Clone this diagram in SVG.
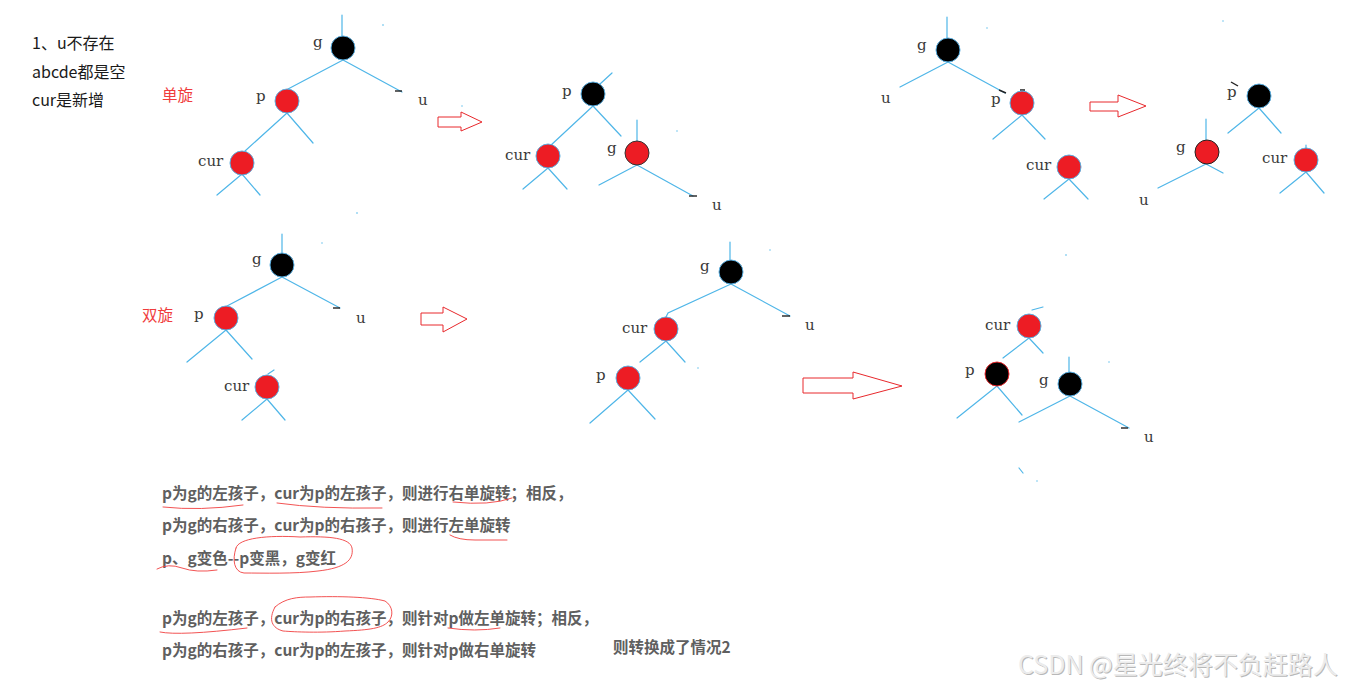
<svg xmlns="http://www.w3.org/2000/svg" width="1349" height="690" viewBox="0 0 1349 690">
<style>
.ln{stroke:#4fb6e8;stroke-width:1.2;fill:none;stroke-linecap:round}
.tk{stroke:#222;stroke-width:1.4}
.rd{fill:#ed1c24;stroke:#5aaee0;stroke-width:1}
.bk{fill:#000;stroke:#5aaee0;stroke-width:1}
.lb{font-family:"DejaVu Serif","Liberation Serif",serif;font-size:15px;fill:#3a3a3a}
.tx{font-family:"Noto Sans CJK SC","Noto Sans",sans-serif;font-size:16px;fill:#1a1a1a}
.red{font-family:"Noto Sans CJK SC",sans-serif;font-size:15.5px;fill:#f03c3c}
.bt{font-family:"Noto Sans CJK SC","Noto Sans",sans-serif;font-size:15.5px;font-weight:bold;fill:#5f5f5f}
.ar{fill:#fff;stroke:#e8282c;stroke-width:1}
.hd{fill:none;stroke:#f04040;stroke-width:0.9;stroke-linecap:round}
.dot{fill:#4fb6e8}
.wm{font-family:"Noto Sans CJK SC",sans-serif;font-size:25px}
</style>
<rect width="1349" height="690" fill="#fff"/>

<g id="notes">
<text class="tx" x="32" y="49">1、u不存在</text>
<text class="tx" x="32" y="78">abcde都是空</text>
<text class="tx" x="32" y="106">cur是新增</text>
<text class="red" x="162" y="101">单旋</text>
<text class="red" x="142" y="321">双旋</text>
</g>

<g id="connectors">
<path class="ln" d="M342,15V36M343,60L288,89M343,60L402,92M287,113L245,151M287,113L313,143M242,174L217,195M242,174L260,195"/>
<path class="tk" d="M395,91H402"/>
<path class="ln" d="M600,84L612,73M593,106L550,146M593,106L621,136M548,168L523,189M548,168L567,189M637,120V141M637,165L599,185M637,165L693,196"/>
<path class="tk" d="M689,196H697"/>
<path class="ln" d="M947,17V38M948,62L900,87M948,62L1005,93M1022,115L993,139M1022,115L1045,139M1069,179L1044,199M1069,179L1088,199"/>
<path class="tk" d="M999,90L1006,93M1020,90H1025"/>
<path class="ln" d="M1259,108L1228,133M1259,108L1281,133M1206,119V140M1206,164L1158,188M1206,164L1223,173M1306,145V148M1306,172L1280,193M1306,172L1324,193"/>
<path class="tk" d="M1231,82L1238,86"/>
<path class="ln" d="M282,234V253M282,277L227,306M282,277L340,308M226,330L187,362M226,330L252,359M268,374L274,370M267,399L242,420M267,399L285,420"/>
<path class="tk" d="M333,308H340"/>
<path class="ln" d="M730,242V260M731,284L668,313L666,317M731,284L790,316M666,341L640,362M666,341L685,362M628,390L590,423M628,390L655,419"/>
<path class="tk" d="M782,316H790"/>
<path class="ln" d="M1032,310L1043,307M1029,338L1003,358M1029,338L1043,353M997,386L957,418M997,386L1022,415M1069,357V372M1070,396L1019,422M1070,396L1129,428M1019,468L1023,473"/>
<path class="tk" d="M1121,428H1128"/>
</g>

<g id="specks">
<circle class="dot" cx="383" cy="25" r="0.8"/>
<circle class="dot" cx="357" cy="213" r="0.8"/>
<circle class="dot" cx="462" cy="106" r="0.7"/>
<circle class="dot" cx="677" cy="131" r="0.7"/>
<circle class="dot" cx="987" cy="28" r="0.7"/>
<circle class="dot" cx="1223" cy="21" r="0.7"/>
<circle class="dot" cx="322" cy="243" r="0.7"/>
<circle class="dot" cx="770" cy="250" r="0.7"/>
<circle class="dot" cx="698" cy="368" r="0.7"/>
<circle class="dot" cx="1066" cy="255" r="0.8"/>
<circle class="dot" cx="1109" cy="362" r="0.7"/>
<circle class="dot" cx="1037" cy="481" r="0.7"/>
</g>

<g id="arrows">
<polygon class="ar" points="438,117 461,117 461,112 482,122 461,131 461,127 438,127"/>
<polygon class="ar" points="1090,102 1118,102 1118,95 1146,106 1118,117 1118,111 1090,111"/>
<polygon class="ar" points="421,313 443,313 443,307 467,319 443,332 443,325 421,325"/>
<polygon class="ar" points="803,378 853,378 853,372 902,386 853,399 853,393 803,393"/>
</g>

<g id="t1-g"><circle class="bk" cx="343" cy="48" r="12"/><text class="lb" x="313" y="47">g</text></g>
<g id="t1-p"><circle class="rd" cx="287" cy="101" r="12"/><text class="lb" x="256" y="101">p</text></g>
<g id="t1-cur"><circle class="rd" cx="242" cy="163" r="12"/><text class="lb" x="198" y="166">cur</text></g>
<g id="t1-u"><text class="lb" x="418" y="105">u</text></g>
<g id="t2-p"><circle class="bk" cx="593" cy="94" r="12"/><text class="lb" x="562" y="96">p</text></g>
<g id="t2-cur"><circle class="rd" cx="548" cy="156" r="12"/><text class="lb" x="505" y="160">cur</text></g>
<g id="t2-g"><circle cx="637" cy="153" r="12" fill="#ed1c24" stroke="#333" stroke-width="1"/><text class="lb" x="607" y="153">g</text></g>
<g id="t2-u"><text class="lb" x="712" y="210">u</text></g>
<g id="t3-g"><circle class="bk" cx="948" cy="50" r="12"/><text class="lb" x="917" y="50">g</text></g>
<g id="t3-u"><text class="lb" x="881" y="103">u</text></g>
<g id="t3-p"><circle class="rd" cx="1022" cy="103" r="12"/><text class="lb" x="991" y="104">p</text></g>
<g id="t3-cur"><circle class="rd" cx="1069" cy="167" r="12"/><text class="lb" x="1026" y="170">cur</text></g>
<g id="t4-p"><circle class="bk" cx="1259" cy="96" r="12"/><text class="lb" x="1227" y="97">p</text></g>
<g id="t4-g"><circle cx="1207" cy="152" r="12" fill="#ed1c24" stroke="#222" stroke-width="1"/><text class="lb" x="1176" y="152">g</text></g>
<g id="t4-u"><text class="lb" x="1139" y="205">u</text></g>
<g id="t4-cur"><circle class="rd" cx="1306" cy="160" r="12"/><text class="lb" x="1262" y="163">cur</text></g>
<g id="t5-g"><circle class="bk" cx="282" cy="265" r="12"/><text class="lb" x="252" y="264">g</text></g>
<g id="t5-p"><circle class="rd" cx="226" cy="318" r="12"/><text class="lb" x="194" y="319">p</text></g>
<g id="t5-u"><text class="lb" x="356" y="323">u</text></g>
<g id="t5-cur"><circle class="rd" cx="267" cy="387" r="12"/><text class="lb" x="224" y="391">cur</text></g>
<g id="t6-g"><circle class="bk" cx="731" cy="272" r="12"/><text class="lb" x="700" y="271">g</text></g>
<g id="t6-u"><text class="lb" x="805" y="330">u</text></g>
<g id="t6-cur"><circle class="rd" cx="666" cy="329" r="12"/><text class="lb" x="622" y="333">cur</text></g>
<g id="t6-p"><circle class="rd" cx="628" cy="378" r="12"/><text class="lb" x="596" y="380">p</text></g>
<g id="t7-cur"><circle class="rd" cx="1029" cy="326" r="12"/><text class="lb" x="985" y="330">cur</text></g>
<g id="t7-p"><circle cx="997" cy="374" r="12" fill="#000" stroke="#e8282c" stroke-width="1"/><text class="lb" x="965" y="375">p</text></g>
<g id="t7-g"><circle class="bk" cx="1070" cy="384" r="12"/><text class="lb" x="1039" y="385">g</text></g>
<g id="t7-u"><text class="lb" x="1144" y="442">u</text></g>

<g id="explanation">
<text class="bt" x="162" y="499">p为g的左孩子，cur为p的左孩子，则进行右单旋转；相反，</text>
<text class="bt" x="162" y="531">p为g的右孩子，cur为p的右孩子，则进行左单旋转</text>
<text class="bt" x="162" y="564">p、g变色--p变黑，g变红</text>
<text class="bt" x="162" y="624">p为g的左孩子，cur为p的右孩子，则针对p做左单旋转；相反，</text>
<text class="bt" x="162" y="656">p为g的右孩子，cur为p的左孩子，则针对p做右单旋转</text>
<text class="bt" x="613" y="653">则转换成了情况2</text>
</g>

<g id="handmarks">
<path class="hd" d="M163,507Q200,511 243,505"/>
<path class="hd" d="M277,503Q320,509 382,508"/>
<path class="hd" d="M453,502Q490,506 512,498"/>
<path class="hd" d="M450,535Q458,540 475,540L507,540"/>
<path class="hd" d="M157,569Q168,563 182,568T217,570"/>
<path class="hd" d="M236,548C238,538 268,535 300,537C330,536 350,538 352,548C354,560 345,568 318,571C295,574 262,573 244,573C234,572 232,560 236,548"/>
<path class="hd" d="M160,632Q180,636 247,628"/>
<path class="hd" d="M275,607C285,598 298,597 310,597C340,596 370,597 385,601C393,606 394,616 388,622C382,628 370,630 345,631C320,633 295,632 283,631C272,628 268,620 275,607"/>
<path class="hd" d="M448,628Q475,632 500,628"/>
</g>

<g id="watermark">
<text class="wm" x="1019" y="675" fill="#b8b8b8">CSDN @星光终将不负赶路人</text>
<text class="wm" x="1018" y="674" fill="#ececec">CSDN @星光终将不负赶路人</text>
</g>
</svg>
